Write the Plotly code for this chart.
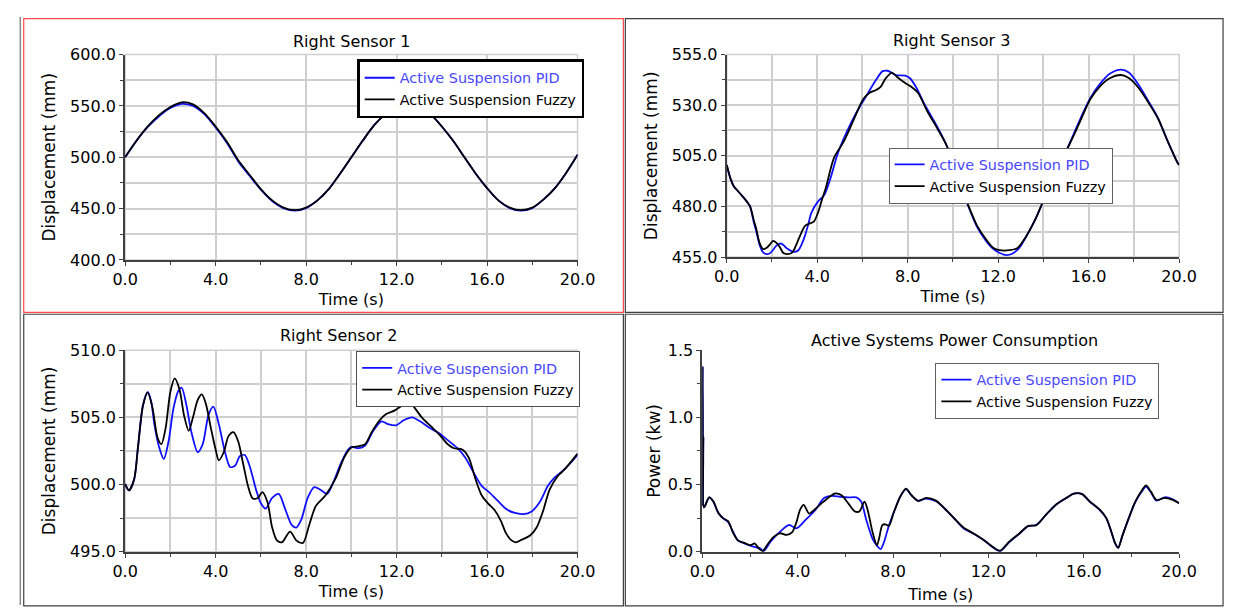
import plotly.graph_objects as go

# ---------------- data ----------------
# Right Sensor 1
t_rs1 = [0, 0.5, 1, 1.5, 2, 2.5, 3, 3.5, 4, 4.5, 5, 5.5, 6, 6.5, 7, 7.5, 8, 8.5, 9, 9.5,
         10, 10.5, 11, 11.5, 12, 12.5, 13, 13.5, 14, 14.5, 15, 15.5, 16, 16.5, 17, 17.5,
         18, 18.5, 19, 19.5, 20]
rs1_fuzzy = [500, 516, 530, 541, 549, 553.5, 551.5, 543, 530, 515, 497, 483, 469, 458, 451,
             448.5, 451, 458, 469, 484, 500, 516, 531, 542, 550, 553, 550.5, 542, 530, 516,
             500, 484, 470, 458, 451, 448.5, 451, 459, 470, 485, 502.5]
rs1_pid = [500, 516, 529.5, 540, 548, 552, 550, 542, 529, 514, 496, 482, 468.5, 457.5, 450.5,
           448, 450.5, 458, 469, 484, 500, 516, 531, 542, 550, 553, 550.5, 542, 530, 516,
           500, 484, 470, 458, 450.5, 448, 450.5, 459, 470, 485, 502.5]

# Right Sensor 3
t_rs3_fuzzy = [0, 0.17, 0.31, 0.46, 0.7, 0.89, 1.03, 1.2, 1.31, 1.45, 1.6, 1.75, 1.89, 2.05,
               2.2, 2.35, 2.5, 2.65, 2.89, 3.05, 3.2, 3.46, 3.65, 3.85, 4.03, 4.2, 4.4, 4.74,
               5.17, 5.6, 6.03, 6.3, 6.6, 6.8, 7.03, 7.3, 7.6, 7.89, 8.17, 8.46, 8.89, 9.31,
               9.74, 10.2, 10.64, 11.07, 11.5, 11.79, 12.07, 12.5, 12.86, 13.21, 13.64, 14.07,
               14.5, 14.93, 15.21, 15.64, 16.07, 16.5, 16.93, 17.43, 17.79, 18.21, 18.64,
               19.07, 19.5, 19.93, 20]
rs3_fuzzy = [500.5, 493.6, 490, 488, 485, 482.4, 480, 473, 468.8, 462, 459, 459.5, 461, 463,
             462, 459.8, 457, 456.5, 457.2, 460.5, 464.5, 470.4, 471.5, 472.5, 476.8, 483,
             490, 504, 512, 522.5, 532.9, 536, 537.5, 539, 543.3, 546, 543.3, 540.9, 539, 536,
             526.5, 518.5, 509.6, 495, 481.6, 470.4, 463.2, 459.5, 458.4, 458.4, 459.5, 464.8,
             473.6, 484.8, 496, 505.6, 512, 522.5, 532.9, 539.3, 543.3, 544.9, 543.3, 538.5,
             531.3, 523.3, 512, 501.6, 500.5]
t_rs3_pid = [0, 0.17, 0.31, 0.46, 0.7, 0.89, 1.03, 1.2, 1.31, 1.46, 1.6, 1.75, 1.89, 2.05,
             2.17, 2.39, 2.55, 2.67, 2.96, 3.17, 3.3, 3.46, 3.6, 3.74, 4.03, 4.31, 4.6, 4.89,
             5.31, 5.74, 6.17, 6.6, 6.89, 7.1, 7.3, 7.46, 7.89, 8.1, 8.39, 8.74, 9.31, 9.74,
             10.2, 10.64, 11.07, 11.5, 11.79, 12.07, 12.36, 12.64, 12.93, 13.21, 13.64, 14.07,
             14.5, 14.93, 15.21, 15.64, 16.07, 16.5, 16.93, 17.43, 17.79, 18.21, 18.64, 19.07,
             19.5, 19.93, 20]
rs3_pid = [500.5, 493.6, 490, 488, 485, 482.4, 480, 472, 467.5, 460.8, 457.5, 456.5, 456.8,
           458.5, 460.4, 461.7, 460.5, 459.2, 457.6, 458.4, 461, 465.6, 471, 476.8, 482.4,
           485.6, 494.4, 505.6, 516.9, 526.5, 534.5, 542.5, 546.8, 547, 546, 544.9, 544.6,
           543.3, 538.5, 530.5, 519.3, 509.6, 495, 481.2, 469.8, 462.4, 459, 457, 456, 456.8,
           459.5, 464.5, 473.6, 484.8, 496, 505.6, 512.5, 523.5, 533.5, 540.5, 545.5, 547.6,
           546, 540, 532, 523.5, 512, 501.6, 500.5]

# Right Sensor 2
t_rs2_fuzzy = [0, 0.17, 0.4, 0.57, 0.79, 1.0, 1.21, 1.43, 1.6, 1.79, 2.0, 2.19, 2.4, 2.61,
               2.81, 3.0, 3.21, 3.39, 3.57, 3.79, 4.0, 4.14, 4.36, 4.57, 4.79, 5.0, 5.21, 5.43,
               5.64, 5.86, 6.07, 6.29, 6.5, 6.71, 6.93, 7.29, 7.57, 7.86, 8.14, 8.43, 8.86,
               9.29, 9.71, 10.0, 10.33, 10.61, 10.9, 11.26, 11.54, 11.9, 12.26, 12.54, 12.76,
               13.11, 13.54, 13.9, 14.26, 14.54, 14.9, 15.19, 15.47, 15.76, 16.04, 16.33,
               16.61, 16.83, 17.04, 17.26, 17.54, 17.9, 18.19, 18.47, 18.76, 19.11, 19.47,
               19.76, 20.0]
rs2_fuzzy = [500.04, 499.56, 500.4, 502.8, 505.9, 506.83, 505.7, 503.5, 503.0, 504.2, 506.9,
             507.9, 507.1, 505.1, 504.0, 505.0, 506.3, 506.7, 506.0, 504.2, 502.6, 501.8,
             502.4, 503.6, 503.9, 503.2, 501.6, 499.9, 498.96, 499.0, 499.44, 498.7, 496.8,
             495.84, 495.7, 496.5, 495.84, 495.65, 497.0, 498.4, 499.2, 500.4, 502.1, 502.75,
             502.85, 503.0, 503.9, 504.8, 505.25, 505.5, 505.9, 506.2, 505.8, 505.0, 504.3,
             503.7, 503.0, 502.7, 502.6, 502.0, 500.5, 499.2, 498.6, 498.1, 497.3, 496.4,
             495.9, 495.7, 495.9, 496.2, 496.8, 498.0, 499.6, 500.6, 501.2, 501.8, 502.3]
t_rs2_pid = [0, 0.17, 0.4, 0.57, 0.79, 1.0, 1.15, 1.29, 1.5, 1.71, 1.93, 2.14, 2.36, 2.5,
             2.71, 2.93, 3.21, 3.43, 3.69, 3.9, 4.14, 4.43, 4.64, 4.86, 5.07, 5.29, 5.5, 5.79,
             6.0, 6.21, 6.5, 6.79, 7.07, 7.36, 7.57, 7.79, 8.07, 8.36, 8.64, 8.93, 9.21, 9.57,
             9.86, 10.0, 10.33, 10.61, 10.97, 11.33, 11.61, 11.97, 12.33, 12.69, 13.04, 13.47,
             13.9, 14.26, 14.69, 15.04, 15.4, 15.76, 16.11, 16.47, 16.83, 17.19, 17.61, 17.97,
             18.33, 18.69, 18.97, 19.33, 19.69, 20.0]
rs2_pid = [500.04, 499.56, 500.4, 502.8, 505.9, 506.9, 506.2, 504.5, 502.8, 501.9, 503.3,
           505.7, 507.0, 507.2, 505.9, 503.9, 502.4, 503.0, 505.2, 505.8, 504.5, 502.3, 501.3,
           501.4, 502.1, 502.2, 501.4, 499.6, 498.6, 498.2, 499.0, 499.3, 498.2, 497.0, 496.8,
           497.4, 499.0, 499.8, 499.6, 499.3, 500.2, 501.7, 502.6, 502.8, 502.7, 502.9, 504.0,
           504.7, 504.5, 504.4, 504.8, 505.0, 504.7, 504.2, 503.8, 503.3, 502.7, 502.0, 500.9,
           499.9, 499.4, 498.8, 498.2, 497.9, 497.8, 498.0, 498.7, 499.9, 500.5, 501.0, 501.6,
           502.2]

# Active Systems Power Consumption
t_pw_fuzzy = [0.0, 0.01, 0.025, 0.04, 0.06, 0.1, 0.29, 0.46, 0.67, 0.87, 1.08, 1.28, 1.49,
              1.76, 2.03, 2.19, 2.37, 2.53, 2.71, 2.98, 3.26, 3.53, 3.76, 3.94, 4.1, 4.25,
              4.48, 4.75, 5.03, 5.3, 5.57, 5.84, 6.12, 6.39, 6.59, 6.8, 6.93, 7.14, 7.32, 7.41,
              7.55, 7.68, 7.82, 8.02, 8.3, 8.54, 8.77, 9.05, 9.39, 9.8, 10.14, 10.54, 10.95,
              11.36, 11.77, 12.18, 12.49, 12.86, 13.27, 13.67, 14.01, 14.42, 14.83, 15.24,
              15.58, 15.92, 16.26, 16.67, 16.94, 17.14, 17.32, 17.44, 17.62, 17.89, 18.16,
              18.44, 18.61, 18.82, 19.05, 19.39, 19.73, 20.0]
pw_fuzzy = [0.34, 1.38, 0.36, 0.85, 0.33, 0.337, 0.404, 0.373, 0.288, 0.248, 0.228, 0.144,
            0.084, 0.065, 0.048, 0.0625, 0.024, 0.005, 0.048, 0.108, 0.137, 0.125, 0.144,
            0.216, 0.3125, 0.349, 0.284, 0.32, 0.365, 0.404, 0.433, 0.42, 0.36, 0.30, 0.30,
            0.373, 0.3125, 0.144, 0.048, 0.096, 0.197, 0.204, 0.192, 0.288, 0.409, 0.469,
            0.42, 0.377, 0.40, 0.38, 0.325, 0.252, 0.18, 0.137, 0.091, 0.036, 0.007, 0.072,
            0.132, 0.192, 0.197, 0.276, 0.349, 0.397, 0.433, 0.428, 0.373, 0.3125, 0.252,
            0.156, 0.06, 0.029, 0.12, 0.252, 0.373, 0.457, 0.493, 0.445, 0.385, 0.40, 0.385,
            0.36]
t_pw_pid = [0.0, 0.01, 0.025, 0.04, 0.06, 0.1, 0.29, 0.46, 0.67, 0.87, 1.08, 1.28, 1.49,
            1.76, 2.17, 2.44, 2.57, 2.85, 3.26, 3.64, 3.94, 4.35, 4.75, 5.1, 5.44, 5.78, 6.12,
            6.46, 6.66, 6.87, 7.14, 7.34, 7.48, 7.62, 7.82, 8.02, 8.3, 8.54, 8.77, 9.05, 9.39,
            9.8, 10.14, 10.54, 10.95, 11.36, 11.77, 12.18, 12.49, 12.86, 13.27, 13.67, 14.01,
            14.42, 14.83, 15.24, 15.58, 15.92, 16.26, 16.67, 16.94, 17.14, 17.32, 17.44,
            17.62, 17.89, 18.16, 18.44, 18.61, 18.82, 19.05, 19.39, 19.73, 20.0]
pw_pid = [0.34, 1.38, 0.36, 0.85, 0.33, 0.337, 0.404, 0.373, 0.29, 0.25, 0.22, 0.15, 0.084,
          0.062, 0.036, 0.024, 0.005, 0.072, 0.149, 0.2, 0.173, 0.24, 0.3125, 0.40, 0.416,
          0.409, 0.404, 0.404, 0.373, 0.24, 0.096, 0.041, 0.019, 0.072, 0.192, 0.288, 0.41,
          0.465, 0.42, 0.38, 0.395, 0.375, 0.325, 0.252, 0.175, 0.135, 0.09, 0.033, 0.005,
          0.07, 0.13, 0.19, 0.2, 0.276, 0.349, 0.397, 0.433, 0.43, 0.37, 0.31, 0.25, 0.156,
          0.06, 0.029, 0.12, 0.252, 0.37, 0.45, 0.485, 0.44, 0.38, 0.405, 0.39, 0.36]

titles = ["Right Sensor 1", "Right Sensor 3", "Right Sensor 2", "Active Systems Power Consumption"]
series_names = ["Active Suspension PID", "Active Suspension Fuzzy"]
x_title = "Time (s)"
y_titles = ["Displacement (mm)", "Displacement (mm)", "Displacement (mm)", "Power (kw)"]

# ---------------- figure ----------------
W, H = 1243, 615
FONT = "DejaVu Sans"
BLUE = "#1010ff"
BLACK = "#000000"


def px(x):
    return x / W


def py(y):
    return 1 - y / H


fig = go.Figure()

panels = [
    # (suffix, x pid, x fuzzy, pid, fuzzy, x-domain px, y-domain px, legend)
    ("", t_rs1, t_rs1, rs1_pid, rs1_fuzzy, (115, 579), (47, 259), "legend"),
    ("2", t_rs3_pid, t_rs3_fuzzy, rs3_pid, rs3_fuzzy, (732, 1196), (47, 256), "legend2"),
    ("3", t_rs2_pid, t_rs2_fuzzy, rs2_pid, rs2_fuzzy, (115, 579), (352, 560), "legend3"),
    ("4", t_pw_pid, t_pw_fuzzy, pw_pid, pw_fuzzy, (707, 1196), (352, 560), "legend4"),
]

for i, (s, xp, xf, yp, yf, xd, yd, lg) in enumerate(panels):
    fig.add_trace(go.Scatter(
        x=xp, y=yp, mode="lines", xaxis="x" + s, yaxis="y" + s, legend=lg,
        name="<span style='color:#4848ff'>" + series_names[0] + "</span>",
        line=dict(color=BLUE, width=1.8, shape="spline", smoothing=0.8)))
    fig.add_trace(go.Scatter(
        x=xf, y=yf, mode="lines", xaxis="x" + s, yaxis="y" + s, legend=lg,
        name=series_names[1],
        line=dict(color=BLACK, width=1.8, shape="spline", smoothing=0.8)))

axis_common = dict(
    showline=True, linecolor="#404040", linewidth=2,
    ticks="outside", ticklen=4, tickcolor="#404040", tickwidth=1,
    tickfont=dict(family=FONT, size=16, color="black"),
    tickformat=".1f", zeroline=False, fixedrange=True,
)

y_ranges = [[400, 600], [455, 555], [495, 510], [0, 1.5]]
y_tick0 = [400, 455, 495, 0]
y_dtick = [50, 25, 5, 0.5]
y_minor = [25, 12.5, 2.5, 0.25]
grid_on = [True, True, True, False]
GRID = "#cfcfcf"

layout = dict(
    width=W, height=H, margin=dict(l=0, r=0, t=0, b=0),
    paper_bgcolor="white", plot_bgcolor="white",
    font=dict(family=FONT, color="black"),
    showlegend=True,
)

for i, (s, xp, xf, yp, yf, xd, yd, lg) in enumerate(panels):
    xk = "xaxis" + s
    yk = "yaxis" + s
    layout[xk] = dict(
        axis_common, domain=[px(xd[0]), px(xd[1])], anchor="y" + s,
        range=[0, 20], tick0=0, dtick=4,
        showgrid=grid_on[i], gridcolor=GRID, gridwidth=1.5,
        minor=dict(dtick=2, ticks="outside", ticklen=3, tickcolor="#404040",
                   showgrid=grid_on[i] and i != 0, gridcolor=GRID, gridwidth=1.5),
        title=dict(text=x_title, font=dict(family=FONT, size=16, color="black"),
                   standoff=6 if i < 3 else 9),
    )
    layout[yk] = dict(
        axis_common, domain=[py(yd[1]), py(yd[0])], anchor="x" + s,
        range=y_ranges[i], tick0=y_tick0[i], dtick=y_dtick[i],
        showgrid=grid_on[i], gridcolor=GRID, gridwidth=1.5,
        minor=dict(dtick=y_minor[i], tick0=y_tick0[i], ticks="outside", ticklen=3,
                   tickcolor="#404040", showgrid=grid_on[i], gridcolor=GRID,
                   gridwidth=1.5),
        title=dict(text=y_titles[i], font=dict(family=FONT, size=17, color="black"),
                   standoff=10 if i < 3 else 3),
    )

legend_style = dict(
    font=dict(family=FONT, size=14.4, color="black"), bgcolor="white",
    xanchor="left", yanchor="top", xref="paper", yref="paper",
    itemwidth=30, tracegroupgap=0, itemclick=False, itemdoubleclick=False,
)
layout["legend"] = dict(legend_style, x=px(353), y=py(52), bordercolor="black", borderwidth=2.5)
layout["legend2"] = dict(legend_style, x=px(898), y=py(143), bordercolor="#606060", borderwidth=1)
layout["legend3"] = dict(legend_style, x=px(352), y=py(353), bordercolor="#505050", borderwidth=1)
layout["legend4"] = dict(legend_style, x=px(946), y=py(365), bordercolor="#606060", borderwidth=1)

# subplot titles
title_pos = [(347, 34), (962, 33), (334, 337), (966, 342)]
annotations = []
for t, (cx, cy) in zip(titles, title_pos):
    annotations.append(dict(text=t, x=px(cx), y=py(cy), xref="paper", yref="paper",
                            xanchor="center", yanchor="middle", showarrow=False,
                            font=dict(family=FONT, size=16, color="black")))
layout["annotations"] = annotations

# panel frames and plot-area frames
shapes = []
frames = [((11, 10, 626, 313), "#ff4a4a"), ((628, 10, 1241, 313), "#404040"),
          ((11, 315, 626, 616), "#404040"), ((628, 315, 1241, 616), "#404040")]
for (x0, y0, x1, y1), c in frames:
    shapes.append(dict(type="rect", xref="paper", yref="paper", x0=px(x0), x1=px(x1),
                       y0=py(y1), y1=py(y0), line=dict(color=c, width=1.2),
                       fillcolor="rgba(0,0,0,0)", layer="below"))
shapes.append(dict(type="line", xref="paper", yref="paper", x0=px(7.5), x1=px(7.5),
                   y0=0, y1=py(8), line=dict(color="#8a8a8a", width=1.5)))
for i, (s, *_rest) in enumerate(panels):
    if grid_on[i]:
        shapes.append(dict(type="rect", xref=("x" + s) + " domain", yref=("y" + s) + " domain",
                           x0=0, x1=1, y0=0, y1=1, line=dict(color=GRID, width=1.5),
                           layer="below"))
layout["shapes"] = shapes

fig.update_layout(layout)

fig.write_html("out.html", config={"displayModeBar": False},
               post_script="document.body.style.margin='0';document.body.style.overflow='hidden';")
